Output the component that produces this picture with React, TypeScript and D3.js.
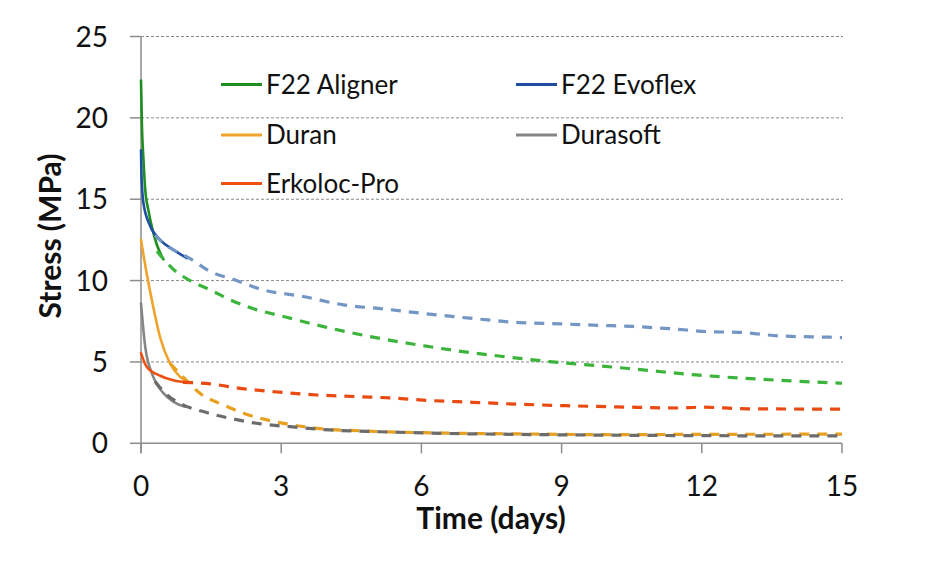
import React from 'react';
import * as d3 from 'd3';

type Pt = [number, number];

// tick values
const xTicks = [0, 3, 6, 9, 12, 15];
const yTicks = [0, 5, 10, 15, 20, 25];

// measured (solid, first day) and fitted (dashed) curves, [days, MPa]
const alignerSolid: Pt[] = [[0, 22.3], [0.02, 19.5], [0.05, 17.6], [0.09, 15.6], [0.16, 14.3], [0.25, 13.1], [0.34, 12.2], [0.48, 11.3]];
const alignerDashed: Pt[] = [[0.34, 11.8], [0.69, 10.7], [1.08, 9.95], [1.48, 9.43], [1.83, 8.92], [2.26, 8.41], [3.19, 7.69], [4.04, 7.08], [4.9, 6.56], [6.1, 5.97], [7.03, 5.58], [7.89, 5.29], [8.74, 5.02], [9.81, 4.76], [10.74, 4.51], [11.88, 4.2], [13.23, 3.94], [15, 3.69]];

const evoflexSolid: Pt[] = [[0, 18], [0.01, 16.5], [0.05, 14.8], [0.19, 13.4], [0.41, 12.5], [0.69, 11.9], [0.98, 11.38]];
const evoflexDashed: Pt[] = [[0.3, 12.8], [0.48, 12.3], [1.05, 11.35], [1.55, 10.46], [1.9, 10.15], [2.61, 9.43], [3.47, 9.02], [4.33, 8.51], [5.18, 8.26], [6.1, 7.96], [7.03, 7.69], [8.1, 7.42], [8.96, 7.34], [9.81, 7.25], [10.52, 7.18], [11.38, 7.03], [12.1, 6.87], [12.87, 6.81], [13.66, 6.6], [14.73, 6.52], [15, 6.5]];

const duranSolid: Pt[] = [[0, 12.5], [0.12, 10.46], [0.26, 8.41], [0.41, 6.5], [0.62, 4.92], [0.83, 4.1], [1.01, 3.79]];
const duranDashed: Pt[] = [[0.62, 4.92], [1.01, 3.75], [1.26, 3.08], [1.76, 2.36], [2.19, 1.85], [2.97, 1.27], [3.76, 0.92], [4.75, 0.76], [6.04, 0.65], [8, 0.58], [10.2, 0.53], [12, 0.55], [15, 0.56]];

const durasoftSolid: Pt[] = [[0, 8.6], [0.09, 5.94], [0.26, 4.1], [0.48, 3.08], [0.69, 2.56], [0.94, 2.25]];
const durasoftDashed: Pt[] = [[0.3, 3.8], [0.55, 3.0], [0.9, 2.36], [1.33, 1.95], [1.9, 1.54], [2.47, 1.23], [3.19, 1.02], [4.04, 0.82], [5.11, 0.71], [6.11, 0.63], [8, 0.55], [10, 0.5], [12, 0.47], [15, 0.45]];

const erkolocSolid: Pt[] = [[0, 5.54], [0.12, 4.71], [0.41, 4.15], [0.69, 3.87], [1.03, 3.73]];
const erkolocDashed: Pt[] = [[0.9, 3.75], [1.48, 3.65], [2.12, 3.38], [2.97, 3.14], [3.76, 2.97], [4.61, 2.87], [5.46, 2.77], [6.11, 2.64], [7.1, 2.52], [8.1, 2.4], [9.1, 2.31], [10.17, 2.24], [11.5, 2.17], [11.95, 2.22], [13, 2.12], [15, 2.1]];

const seriesNames = ['F22 Aligner', 'F22 Evoflex', 'Duran', 'Durasoft', 'Erkoloc-Pro'];

const series = [
  { name: seriesNames[0], solid: alignerSolid, dashed: alignerDashed, color: '#1e8f1e', dashColor: '#3cb43c' },
  { name: seriesNames[1], solid: evoflexSolid, dashed: evoflexDashed, color: '#1f4fa0', dashColor: '#7396c4' },
  { name: seriesNames[2], solid: duranSolid, dashed: duranDashed, color: '#f0a22a', dashColor: '#e8a020' },
  { name: seriesNames[3], solid: durasoftSolid, dashed: durasoftDashed, color: '#858585', dashColor: '#6c6c6c' },
  { name: seriesNames[4], solid: erkolocSolid, dashed: erkolocDashed, color: '#ee5010', dashColor: '#e84a12' },
];

const FONT = "Lato, 'Open Sans', sans-serif";

export default function App() {
  const W = 948, H = 565;
  const x = d3.scaleLinear().domain([0, 15]).range([141, 842]);
  const y = d3.scaleLinear().domain([0, 25]).range([443.3, 36.5]);

  const line = d3.line<Pt>()
    .x(d => x(d[0]))
    .y(d => y(d[1]))
    .curve(d3.curveMonotoneX);

  // legend layout
  const legendPos = [
    { lx: 221, ly: 84.5 },
    { lx: 516, ly: 84.5 },
    { lx: 221, ly: 135 },
    { lx: 516, ly: 135 },
    { lx: 221, ly: 183.5 },
  ];

  const axisColor = '#8c8c8c';

  return (
    <div style={{ position: 'absolute', left: 0, top: 0 }}>
      <svg width={W} height={H} style={{ display: 'block', background: '#fff' }}>
        {/* gridlines */}
        {yTicks.filter(v => v > 0).map(v => (
          <line key={'g' + v} x1={x(0)} x2={843} y1={y(v)} y2={y(v)}
            stroke="#8a8a8a" strokeWidth={1} strokeDasharray="3,2" />
        ))}

        {/* axes */}
        <line x1={x(0)} x2={x(0)} y1={y(25)} y2={y(0) + 10} stroke={axisColor} strokeWidth={1.5} />
        <line x1={x(0)} x2={x(15)} y1={y(0)} y2={y(0)} stroke={axisColor} strokeWidth={1.5} />
        {yTicks.map(v => (
          <line key={'yt' + v} x1={x(0) - 11} x2={x(0)} y1={y(v)} y2={y(v)} stroke={axisColor} strokeWidth={1.5} />
        ))}
        {xTicks.map(v => (
          <line key={'xt' + v} x1={x(v)} x2={x(v)} y1={y(0)} y2={y(0) + 10} stroke={axisColor} strokeWidth={1.5} />
        ))}

        {/* tick labels */}
        {yTicks.map(v => (
          <text key={'yl' + v} x={108} y={y(v)} dy="0.36em" textAnchor="end"
            fontFamily={FONT} fontSize={28} fill="#111">{v}</text>
        ))}
        {xTicks.map(v => (
          <text key={'xl' + v} x={x(v)} y={496} textAnchor="middle"
            fontFamily={FONT} fontSize={28} fill="#111">{v}</text>
        ))}

        {/* axis titles */}
        <text x={491} y={529} textAnchor="middle" fontFamily={FONT} fontSize={30} fontWeight="bold" fill="#111">
          Time (days)
        </text>
        <text transform="translate(50,236) rotate(-90)" textAnchor="middle" dy="0.36em"
          fontFamily={FONT} fontSize={30} fontWeight="bold" fill="#111">
          Stress (MPa)
        </text>

        {/* curves */}
        {series.map(s => (
          <g key={s.name}>
            <path d={line(s.solid) || ''} fill="none" stroke={s.color} strokeWidth={2.6} strokeLinecap="round" />
            <path d={line(s.dashed) || ''} fill="none" stroke={s.dashColor} strokeWidth={3.2}
              strokeDasharray="10,8" />
          </g>
        ))}

        {/* legend */}
        {series.map((s, i) => {
          const p = legendPos[i];
          return (
            <g key={'lg' + s.name}>
              <line x1={p.lx} x2={p.lx + 41} y1={p.ly} y2={p.ly} stroke={s.color} strokeWidth={3} />
              <text x={p.lx + 45} y={p.ly} dy="0.36em" fontFamily={FONT} fontSize={26} fill="#111">{s.name}</text>
            </g>
          );
        })}

        {/* caption (cut off at the bottom of the frame, as in the source) */}
        <text x={27} y={581} fontFamily={FONT} fontSize={20} fill="#111">
          <tspan fontWeight="bold" fontStyle="italic">Figure 4.</tspan>
          <tspan dx={8}>Stress relaxation.</tspan>
        </text>
      </svg>
    </div>
  );
}
